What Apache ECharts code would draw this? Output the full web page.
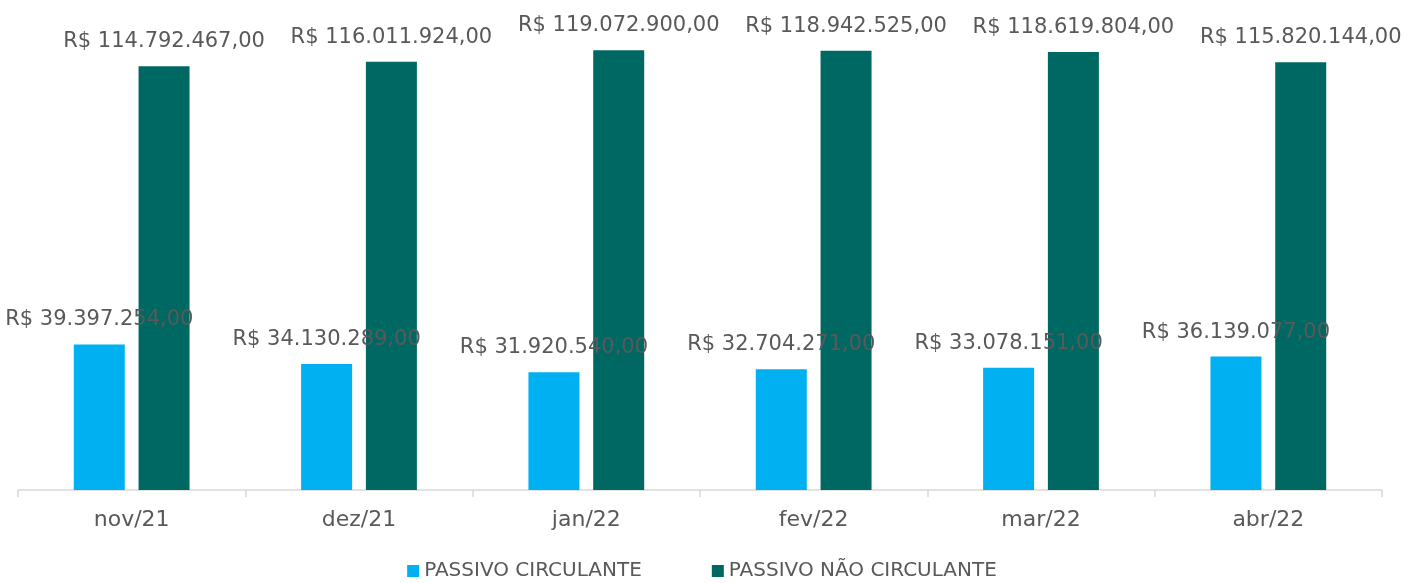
<!DOCTYPE html>
<html>
<head>
<meta charset="utf-8">
<script src="https://cdn.jsdelivr.net/npm/echarts@6/dist/echarts.min.js"></script>
<style>
  html, body { margin: 0; padding: 0; background: #fff; }
  #main { width: 1404px; height: 583px; }
</style>
</head>
<body>
<div id="main"></div>
<script>
var meses = ['nov/21', 'dez/21', 'jan/22', 'fev/22', 'mar/22', 'abr/22'];
var circulante = [39397254, 34130289, 31920540, 32704271, 33078151, 36139077];
var naoCirculante = [114792467, 116011924, 119072900, 118942525, 118619804, 115820144];

// formato brasileiro: R$ 1.234.567,00
function reais(v) {
    var s = Math.round(v).toString();
    var out = '';
    while (s.length > 3) {
        out = '.' + s.slice(-3) + out;
        s = s.slice(0, -3);
    }
    return 'R$ ' + s + out + ',00';
}

var fonte = '"DejaVu Sans", sans-serif';
var myChart = echarts.init(document.getElementById('main'));

var labelCfg = {
    show: true,
    position: 'top',
    distance: 14,
    color: '#595959',
    fontSize: 21,
    fontFamily: fonte,
    formatter: function (p) { return reais(p.value); }
};

var option = {
    animation: false,
    grid: { left: 18, right: 22, top: 10, bottom: 93 },
    legend: {
        bottom: -3,
        left: 'center',
        itemWidth: 12,
        itemHeight: 12,
        itemGap: 70,
        icon: 'rect',
        textStyle: { color: '#595959', fontSize: 20, fontFamily: fonte, padding: [0, 0, 0, 0] },
        data: ['PASSIVO CIRCULANTE', 'PASSIVO NÃO CIRCULANTE']
    },
    xAxis: {
        type: 'category',
        data: meses,
        axisLine: { lineStyle: { color: '#d9d9d9', width: 1.5 } },
        axisTick: { show: true, length: 7, lineStyle: { color: '#d9d9d9', width: 1.5 } },
        axisLabel: { color: '#595959', fontSize: 22, fontFamily: fonte, margin: 19 }
    },
    yAxis: {
        type: 'value',
        min: 0,
        max: 130000000,
        show: false,
        splitLine: { show: false }
    },
    series: [
        {
            name: 'PASSIVO CIRCULANTE',
            type: 'bar',
            data: circulante,
            barWidth: 51,
            barGap: '27%',
            itemStyle: { color: '#00B0F0' },
            label: labelCfg
        },
        {
            name: 'PASSIVO NÃO CIRCULANTE',
            type: 'bar',
            data: naoCirculante,
            barWidth: 51,
            itemStyle: { color: '#006862' },
            label: labelCfg
        }
    ]
};
myChart.setOption(option);
</script>
</body>
</html>
